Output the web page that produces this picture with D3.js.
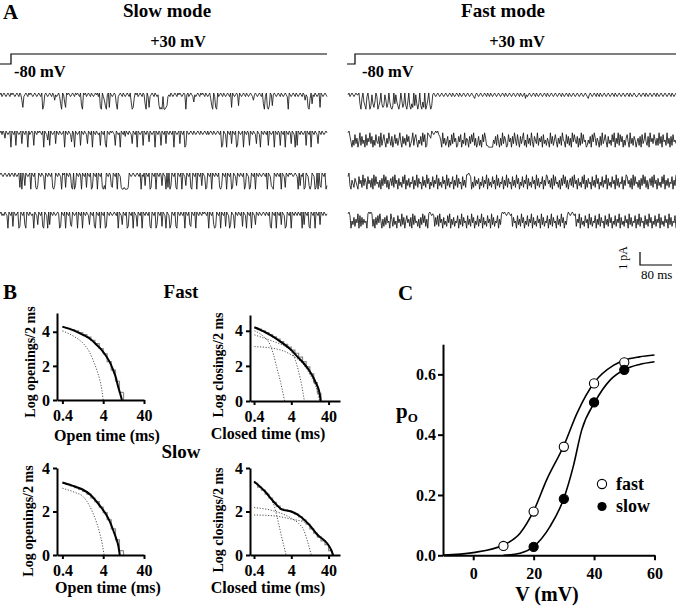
<!DOCTYPE html>
<html>
<head>
<meta charset="utf-8">
<script src="https://cdn.jsdelivr.net/npm/d3@7"></script>
<style>
  body { margin: 0; background: #fff; }
  svg { display: block; font-family: "Liberation Serif", "Times New Roman", serif; }
  .ax path, .ax line { stroke: #000; stroke-width: 2; }
  .ax text { font-family: "Liberation Serif", "Times New Roman", serif; font-weight: bold; font-size: 16px; fill: #000; }
</style>
</head>
<body>
<svg id="fig" width="676" height="606"></svg>
<script>
// ---- data ----
// single channel traces, one digit per pixel: downward deflection level (0 = baseline, 9 = full)
var slowTraces = [
  "1021012101" + "2010121012" + "0148210120" + "1012101210" + "1209710121" + "0120141210" + "2690158010" + "1210120101" +
  "2079010210" + "1201210102" + "0890247910" + "8012101692" + "1012012101" + "2059830102" + "1012016902" + "8210120121" +
  "7989299872" + "1201210120" + "1012101910" + "2101251210" + "1201012012" + "1037902890" + "2101201210" + "1208012101" +
  "7012101201" + "2101241012" + "1012069208" + "9701710121" + "0120121012" + "9012101201" + "2101201412" + "8930612012" + "1080121012",
  "1020140121" + "0901208012" + "1070120190" + "2101801201" + "0120901250" + "8012107012" + "0121090120" + "1260190121" +
  "0801201270" + "1209012012" + "1801207901" + "2010128012" + "1901203012" + "0127012090" + "1210801201" + "6012109012" +
  "0180120701" + "2012090121" + "0701209801" + "2101201210" + "1201210120" + "2101201210" + "1209801290" + "1207012098" +
  "0121090120" + "1801201270" + "1290120120" + "8012109012" + "0180120901" + "2017012908" + "0120121080" + "1209012012" + "7012012101",
  "1012101210" + "2101201210" + "8090170121" + "0901208970" + "1201290120" + "1208970120" + "1290108012" + "0189097012" +
  "0190120801" + "2098012090" + "1208979012" + "0178012090" + "1289989998" + "0121012101" + "2091207012" + "0980120901" +
  "2017012908" + "0970120890" + "1209012701" + "2089012090" + "1207012980" + "1209012012" + "0897012090" + "1209801270" +
  "1201209701" + "2980120901" + "2012101209" + "0127890120" + "1209012801" + "2010121012" + "9071209801" + "2797012980" + "9078012097",
  "1021201290" + "1208012109" + "8012079012" + "0121901270" + "1208901290" + "7012012101" + "9801209012" + "0780121090" +
  "1209012012" + "7012089012" + "0901209801" + "2012101209" + "0127012098" + "0120901280" + "1209012012" + "0890120970" +
  "1208012901" + "2970120890" + "1201209012" + "0780120901" + "2012010120" + "9012079801" + "2090120801" + "2970129012" +
  "0120801290" + "1209012701" + "2012101201" + "2089012090" + "1207012980" + "1209012012" + "0120907012" + "0890120901" + "2070120121"
];
var fastTraces = [
  "1021012101" + "1069305792" + "0497168502" + "9750687148" + "6058970615" + "7960486079" + "5079680716" + "9607958097" +
  "4069710121" + "0121012101" + "2101201210" + "1201210121" + "0121012310" + "1210121012" + "0120121012" + "1012101201" +
  "2101210121" + "0120121031" + "2101210120" + "1210121012" + "0121012101" + "2101201210" + "1201210121" + "0121012101" +
  "2310121012" + "0120121012" + "1012101201" + "2101210121" + "0120121012" + "2101210120" + "1210121012" + "0121012101" + "2101201210",
  "1036958274" + "9618375928" + "4617395826" + "7391852694" + "7158396274" + "8516937482" + "6397518426" + "9573816298" +
  "1234012101" + "0235917486" + "3958271649" + "8362957184" + "5937261849" + "7385926148" + "8999995738" + "2694817359" +
  "8264937158" + "2693741859" + "2748169357" + "1846392758" + "4691738526" + "9473815692" + "7384916257" + "3948172659" +
  "8573926148" + "4693817526" + "9375826194" + "7182639584" + "2691748359" + "6483927516" + "8391647258" + "4817392658" + "1749382657",
  "2079468357" + "9264817359" + "2648391726" + "5849371628" + "4953728164" + "9375826194" + "7385629471" + "8365927481" +
  "6395728461" + "9375826491" + "7385629471" + "8365927481" + "1012958274" + "6395728461" + "9375826491" + "7385629471" +
  "8365927481" + "6395728461" + "9375826491" + "7385629471" + "2648391726" + "5849371628" + "4953728164" + "9375826194" +
  "8365927481" + "6395728461" + "9375826491" + "7385629471" + "2648391726" + "5849371628" + "4953728164" + "9375826194" + "7385629471",
  "1029573846" + "1928374659" + "1010184937" + "2615948372" + "6591483759" + "2648173952" + "6483917265" + "8493716284" +
  "9101212837" + "2816493758" + "2619473856" + "2947183659" + "2748163957" + "2846193758" + "2649173856" + "2947101012" +
  "1012183659" + "2748163957" + "2846193758" + "2649173856" + "2947183659" + "2748163957" + "2012101218" + "4619375826" +
  "4917385629" + "4718365927" + "4816395728" + "4619375826" + "4917385629" + "4718365927" + "4816395728" + "4619375826" + "4917385629"
];

// dwell-time histograms (log10 counts per bin)
var binEdges = [0.4, 0.5, 0.63, 0.8, 1, 1.26, 1.6, 2, 2.5, 3.2, 4, 5, 6.3, 8, 10, 12.6, 16, 20, 25, 32, 40, 50];

var fastOpenBins = [4.25, 4.2, 4.12, 4.05, 3.95, 3.83, 3.68, 3.5, 3.3, 3.02, 2.7, 2.25, 1.75, 1.1, 0.45];
var fastOpenFit = [[0.4, 4.3], [0.8, 4.05], [1.28, 3.82], [2, 3.55], [2.74, 3.24], [3.6, 2.95], [4.8, 2.55], [6, 2.15], [7, 1.76], [8.2, 1.3], [9.3, 0.78], [10.5, 0.35], [11.5, 0]];
var fastOpenComps = [
  [[0.4, 4.05], [0.8, 3.7], [1.28, 3.33], [1.8, 2.85], [2.25, 2.35], [2.8, 1.75], [3.3, 1.18], [3.7, 0.6], [4.0, 0]]
];

var fastClosedBins = [4.18, 4.1, 4.0, 3.9, 3.78, 3.65, 3.52, 3.38, 3.23, 3.07, 2.9, 2.72, 2.5, 2.25, 1.95, 1.55, 1.05, 0.45];
var fastClosedFit = [[0.41, 4.2], [1.08, 3.77], [2, 3.4], [4, 2.9], [6, 2.5], [8.6, 2.15], [12, 1.75], [16, 1.3], [19, 0.95], [21.9, 0.63], [23.5, 0.3], [24.6, 0]];
var fastClosedComps = [
  [[0.41, 4.0], [0.7, 3.7], [1.08, 3.2], [1.35, 2.6], [1.65, 1.87], [2.1, 1.0], [2.64, 0]],
  [[0.41, 3.77], [1.33, 3.39], [2.5, 3.15], [4, 2.82], [5.2, 2.3], [6.3, 1.67], [7.6, 0.9], [8.97, 0]],
  [[0.41, 3.1], [1.33, 3.0], [4, 2.63], [8.6, 2.06], [12, 1.6], [16, 1.1], [20, 0.55], [23, 0]]
];

var slowOpenBins = [3.3, 3.25, 3.18, 3.1, 3.02, 2.92, 2.8, 2.62, 2.45, 2.2, 1.95, 1.62, 1.2, 0.7, 0.2];
var slowOpenFit = [[0.4, 3.33], [0.8, 3.15], [1.28, 3.0], [2, 2.75], [2.74, 2.46], [3.7, 2.15], [4.8, 1.84], [6, 1.48], [7, 1.15], [8.2, 0.8], [9.3, 0.46], [10.2, 0]];
var slowOpenComps = [
  [[0.4, 3.07], [0.8, 2.88], [1.28, 2.69], [1.8, 2.3], [2.25, 1.92], [2.8, 1.45], [3.3, 1.0], [3.8, 0.5], [4.2, 0]]
];

var slowClosedBins = [3.3, 3.12, 2.98, 2.8, 2.62, 2.42, 2.25, 2.12, 2.06, 2.02, 1.96, 1.88, 1.75, 1.6, 1.42, 1.2, 1.0, 0.82, 0.65, 0.48, 0.2];
var slowClosedFit = [[0.4, 3.38], [0.79, 2.92], [1.33, 2.46], [2.2, 2.1], [4, 2.0], [7, 1.77], [12.3, 1.38], [20.3, 0.92], [36.5, 0.54], [47, 0.23], [53, 0]];
var slowClosedComps = [
  [[0.4, 3.38], [0.7, 3.0], [1.08, 2.69], [1.4, 2.25], [1.65, 1.77], [2.2, 0.84], [2.9, 0]],
  [[0.4, 2.18], [1.33, 2.03], [4, 1.69], [6.3, 1.45], [8.6, 1.15], [11, 0.6], [13.7, 0]],
  [[0.4, 1.84], [1.33, 1.8], [4, 1.65], [10.3, 1.47], [17.6, 1.07], [36.5, 0.54], [47, 0.23], [53, 0]]
];

var histTicksX = [0.4, 4, 40];
var histTicksY = [0, 2, 4];

// open probability vs voltage
var vFast = [10, 20, 30, 40, 50];
var poFast = [0.031, 0.145, 0.36, 0.57, 0.64];
var vSlow = [20, 30, 40, 50];
var poSlow = [0.028, 0.187, 0.507, 0.615];
var fitFast = [[-10, 0.001], [0, 0.009], [10, 0.034], [15.5, 0.073], [20, 0.147], [24.3, 0.25], [30, 0.364], [34.3, 0.47], [40.3, 0.576], [46.4, 0.63], [50.3, 0.648], [55, 0.658], [60, 0.664]];
var fitSlow = [[10, 0.0], [15.5, 0.007], [20, 0.029], [25.4, 0.095], [30, 0.189], [33.1, 0.294], [35.9, 0.415], [40.3, 0.509], [45.3, 0.581], [50.3, 0.617], [55, 0.633], [60, 0.642]];

// ---- drawing ----
var svg = d3.select("#fig");
svg.append("rect").attr("width", 676).attr("height", 606).attr("fill", "#fff");

function label(x, y, txt, size, bold, anchor) {
    return svg.append("text")
        .attr("x", x).attr("y", y)
        .attr("font-size", size)
        .attr("font-weight", bold ? "bold" : "normal")
        .attr("text-anchor", anchor || "start")
        .text(txt);
}

// panel A
label(3, 19, "A", 21, true);
label(167, 17, "Slow mode", 19, true, "middle");
label(503, 17, "Fast mode", 19, true, "middle");
label(178, 47, "+30 mV", 16.5, true, "middle");
label(517, 47, "+30 mV", 16.5, true, "middle");
label(14, 77, "-80 mV", 16.5, true);
label(362, 77, "-80 mV", 16.5, true);

var stepLine = d3.line();
[[0, 11, 327], [347, 355, 676]].forEach(function (s) {
    svg.append("path")
        .attr("d", stepLine([[s[0], 64], [s[1], 64], [s[1], 54], [s[2], 54]]))
        .attr("fill", "none").attr("stroke", "#000").attr("stroke-width", 1.2);
});

var traceRows = [93, 131, 173, 212];
var levelPx = 1.8;

function drawTrace(str, x0, x1, y0) {
    var vals = str.split("").map(Number);
    var x = d3.scaleLinear().domain([0, vals.length - 1]).range([x0, x1]);
    var y = d3.scaleLinear().domain([0, 9]).range([y0, y0 + 9 * levelPx]);
    var line = d3.line().x(function (d, i) { return x(i); }).y(function (d) { return y(d); });
    svg.append("path").attr("d", line(vals))
        .attr("fill", "none").attr("stroke", "#151515").attr("stroke-width", 0.85);
}
slowTraces.forEach(function (s, i) { drawTrace(s, 0, 327, traceRows[i]); });
fastTraces.forEach(function (s, i) { drawTrace(s, 348, 676, traceRows[i]); });

// scale bar
svg.append("path").attr("d", stepLine([[640, 252], [640, 265], [672, 265]]))
    .attr("fill", "none").attr("stroke", "#000").attr("stroke-width", 1.2);
svg.append("text").attr("transform", "translate(627,258) rotate(-90)")
    .attr("font-size", 12).attr("text-anchor", "middle").text("1 pA");
label(641, 279, "80 ms", 13, false);

// panel B
label(3, 299, "B", 21, true);
label(181, 298, "Fast", 19, true, "middle");
label(181, 458, "Slow", 19, true, "middle");

function histPanel(cfg) {
    var x = d3.scaleLog().domain(cfg.xd).range([cfg.left, cfg.right]);
    var y = d3.scaleLinear().domain([0, cfg.ymax]).range([cfg.bottom, cfg.top]);
    var g = svg.append("g");

    // histogram steps
    var pts = cfg.bins.map(function (v, i) { return [binEdges[i], v]; });
    pts.push([binEdges[cfg.bins.length], cfg.bins[cfg.bins.length - 1]]);
    var step = d3.line().x(function (d) { return x(d[0]); }).y(function (d) { return y(d[1]); }).curve(d3.curveStepAfter);
    g.append("path").attr("d", step(pts))
        .attr("fill", "none").attr("stroke", "#8a8a8a").attr("stroke-width", 1.2);
    var lastX = x(binEdges[cfg.bins.length]);
    g.append("line").attr("x1", lastX).attr("x2", lastX)
        .attr("y1", y(cfg.bins[cfg.bins.length - 1])).attr("y2", y(0))
        .attr("stroke", "#8a8a8a").attr("stroke-width", 1.2);

    var curve = d3.line().x(function (d) { return x(d[0]); }).y(function (d) { return y(d[1]); }).curve(d3.curveMonotoneX);
    cfg.comps.forEach(function (c) {
        g.append("path").attr("d", curve(c))
            .attr("fill", "none").attr("stroke", "#555").attr("stroke-width", 1)
            .attr("stroke-dasharray", "1.2,1.6");
    });
    g.append("path").attr("d", curve(cfg.fit))
        .attr("fill", "none").attr("stroke", "#000").attr("stroke-width", 2);

    g.append("g").attr("class", "ax")
        .attr("transform", "translate(0," + cfg.bottom + ")")
        .call(d3.axisBottom(x).tickValues(histTicksX).tickFormat(function (d) { return d; })
            .tickSize(4).tickSizeOuter(0).tickPadding(6));
    g.append("g").attr("class", "ax")
        .attr("transform", "translate(" + cfg.left + ",0)")
        .call(d3.axisLeft(y).tickValues(histTicksY).tickFormat(d3.format("d"))
            .tickSize(4).tickSizeOuter(0).tickPadding(3));

    g.append("text").attr("x", cfg.xlx).attr("y", cfg.xly)
        .attr("font-size", 16).attr("font-weight", "bold").attr("text-anchor", "middle").text(cfg.xlabel);
    g.append("text").attr("transform", "translate(" + cfg.ylx + "," + cfg.yly + ") rotate(-90)")
        .attr("dy", "0.35em")
        .attr("font-size", 14).attr("font-weight", "bold").attr("text-anchor", "middle").text(cfg.ylabel);
}

histPanel({ xd: [0.295, 40], left: 57, right: 144, bottom: 400, top: 313, ymax: 5.1,
    bins: fastOpenBins, fit: fastOpenFit, comps: fastOpenComps,
    xlabel: "Open time (ms)", xlx: 107, xly: 441, ylabel: "Log openings/2 ms", ylx: 30, yly: 362 });
histPanel({ xd: [0.312, 81], left: 250, right: 340, bottom: 401, top: 315, ymax: 4.9,
    bins: fastClosedBins, fit: fastClosedFit, comps: fastClosedComps,
    xlabel: "Closed time (ms)", xlx: 268, xly: 439, ylabel: "Log closings/2 ms", ylx: 218, yly: 365 });
histPanel({ xd: [0.295, 40], left: 57, right: 144, bottom: 555, top: 468, ymax: 4,
    bins: slowOpenBins, fit: slowOpenFit, comps: slowOpenComps,
    xlabel: "Open time (ms)", xlx: 108, xly: 593, ylabel: "Log openings/2 ms", ylx: 28, yly: 521 });
histPanel({ xd: [0.312, 81], left: 250, right: 340, bottom: 555, top: 468, ymax: 4,
    bins: slowClosedBins, fit: slowClosedFit, comps: slowClosedComps,
    xlabel: "Closed time (ms)", xlx: 268, xly: 593, ylabel: "Log closings/2 ms", ylx: 218, yly: 520 });

// panel C
label(398, 300, "C", 21, true);
var cx = d3.scaleLinear().domain([-10, 60]).range([443, 654.5]);
var cy = d3.scaleLinear().domain([0, 0.7]).range([555.3, 344.2]);
var cLine = d3.line().x(function (d) { return cx(d[0]); }).y(function (d) { return cy(d[1]); }).curve(d3.curveMonotoneX);
[fitFast, fitSlow].forEach(function (f) {
    svg.append("path").attr("d", cLine(f)).attr("fill", "none").attr("stroke", "#000").attr("stroke-width", 1.6);
});
svg.append("g").attr("class", "ax").attr("transform", "translate(0,555.3)")
    .call(d3.axisBottom(cx).tickValues([0, 20, 40, 60]).tickSize(5).tickSizeOuter(0).tickPadding(7));
svg.append("g").attr("class", "ax").attr("transform", "translate(443,0)")
    .call(d3.axisLeft(cy).tickValues([0, 0.2, 0.4, 0.6]).tickFormat(d3.format(".1f")).tickSize(5).tickSizeOuter(0).tickPadding(2));

svg.selectAll(".ptF").data(vFast).enter().append("circle")
    .attr("cx", function (d) { return cx(d); })
    .attr("cy", function (d, i) { return cy(poFast[i]); })
    .attr("r", 4.6).attr("fill", "#fff").attr("stroke", "#000").attr("stroke-width", 1.1);
svg.selectAll(".ptS").data(vSlow).enter().append("circle")
    .attr("cx", function (d) { return cx(d); })
    .attr("cy", function (d, i) { return cy(poSlow[i]); })
    .attr("r", 4.6).attr("fill", "#000").attr("stroke", "#000").attr("stroke-width", 1.1);

// legend
svg.append("circle").attr("cx", 602).attr("cy", 484).attr("r", 4.6)
    .attr("fill", "#fff").attr("stroke", "#000").attr("stroke-width", 1.1);
svg.append("circle").attr("cx", 602).attr("cy", 506.5).attr("r", 4.6).attr("fill", "#000");
label(616, 490, "fast", 18, true);
label(616, 512, "slow", 18, true);

var po = svg.append("text").attr("x", 396).attr("y", 418).attr("font-size", 21).attr("font-weight", "bold");
po.append("tspan").text("p");
po.append("tspan").attr("font-size", 13).attr("dy", 4).text("O");
label(547, 601, "V (mV)", 20, true, "middle");
</script>
</body>
</html>
